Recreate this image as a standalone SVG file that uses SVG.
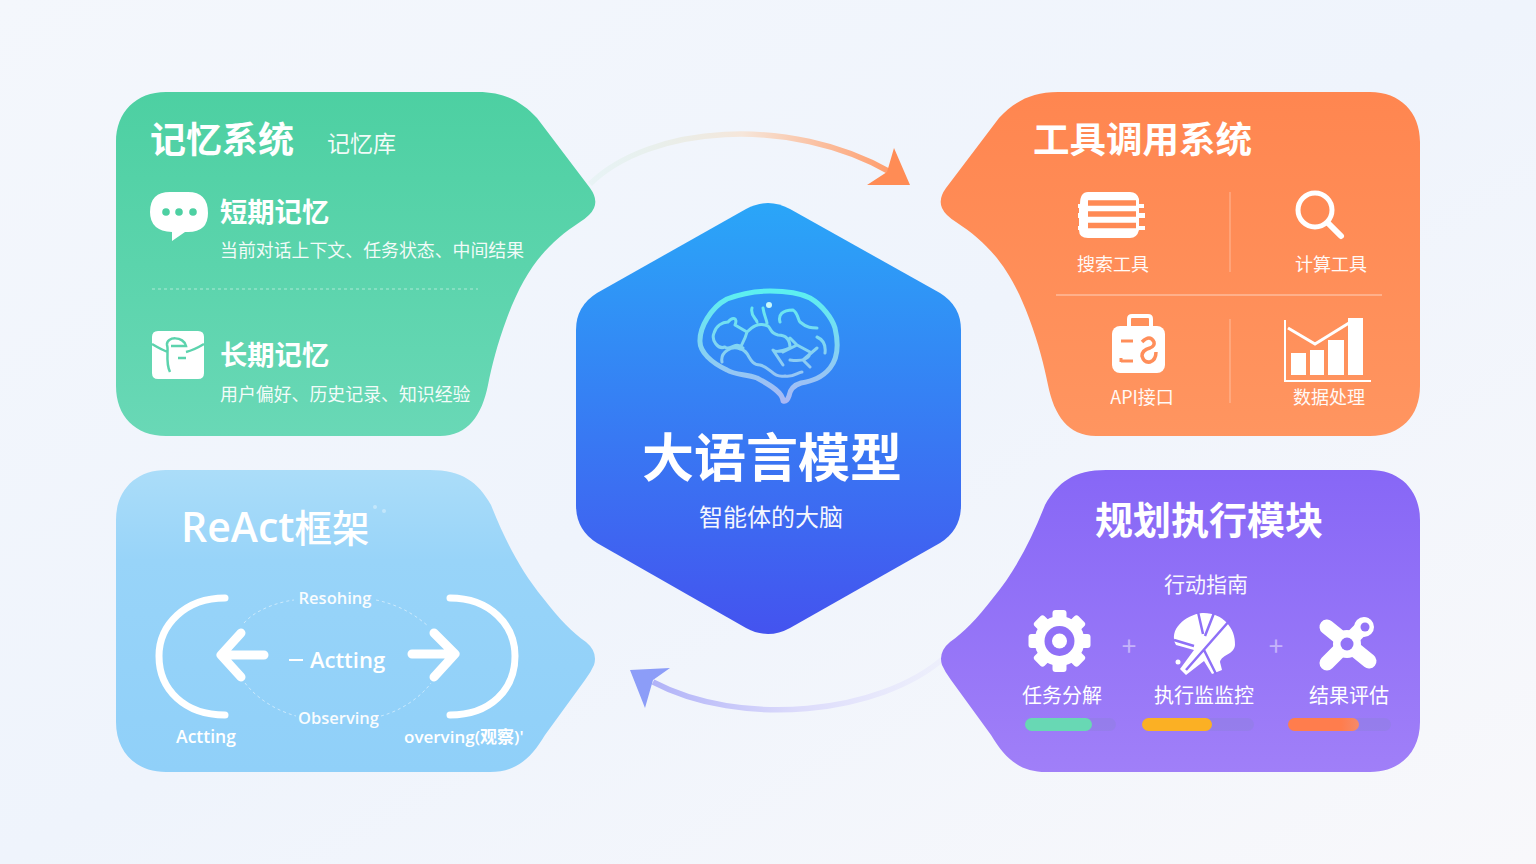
<svg xmlns="http://www.w3.org/2000/svg" width="1536" height="864" viewBox="0 0 1536 864">
<style>
text{font-family:"Noto Sans CJK SC","Noto Sans",sans-serif;fill:#fff}
.c{text-anchor:middle}
.t{font-size:36px;font-weight:700}
.h{font-size:27.300px;font-weight:700}
.s{font-size:17.900px;opacity:.92}
.l{font-size:18px;opacity:.95}
.e{font-family:"Open Sans","Noto Sans CJK SC",sans-serif;font-weight:600}
.w{fill:#fff}
.ws{fill:none;stroke:#fff;stroke-linecap:round;stroke-linejoin:round}
.d{fill:none;stroke:#fff;stroke-width:1;stroke-dasharray:3 3;opacity:.5}
.bf{fill:none;stroke:url(#gbr);stroke-linecap:round;stroke-linejoin:round}
.tr{fill:#8f80e2;fill-opacity:.55}
</style>
<defs>
<linearGradient id="bg" x1="0" y1="0" x2="1" y2="1"><stop offset="0" stop-color="#f4f7fc"/><stop offset=".5" stop-color="#eff4fc"/><stop offset="1" stop-color="#f8f8fb"/></linearGradient>
<linearGradient id="gg" x1="0" y1="0" x2="0" y2="1"><stop offset="0" stop-color="#4dd0a2"/><stop offset="1" stop-color="#69d8b6"/></linearGradient>
<linearGradient id="go" x1="0" y1="0" x2="0" y2="1"><stop offset="0" stop-color="#ff8650"/><stop offset="1" stop-color="#ff9560"/></linearGradient>
<linearGradient id="gb" x1="0" y1="0" x2="0" y2="1"><stop offset="0" stop-color="#abddf9"/><stop offset=".3" stop-color="#98d4f9"/><stop offset="1" stop-color="#90d0f9"/></linearGradient>
<linearGradient id="gp" x1="0" y1="0" x2="0" y2="1"><stop offset="0" stop-color="#8767f6"/><stop offset="1" stop-color="#a07ff8"/></linearGradient>
<linearGradient id="gh" x1="0" y1="0" x2="0" y2="1"><stop offset="0" stop-color="#2aa6f8"/><stop offset="1" stop-color="#4453ef"/></linearGradient>
<linearGradient id="gbr" gradientUnits="userSpaceOnUse" x1="0" y1="292" x2="0" y2="402"><stop offset="0" stop-color="#5cf0f0"/><stop offset="1" stop-color="#a9b8f5"/></linearGradient>
<linearGradient id="a1" gradientUnits="userSpaceOnUse" x1="590" y1="180" x2="895" y2="180"><stop offset="0" stop-color="#d5efe6" stop-opacity=".3"/><stop offset=".5" stop-color="#f6e6da"/><stop offset="1" stop-color="#ff9a68"/></linearGradient>
<linearGradient id="a2" gradientUnits="userSpaceOnUse" x1="945" y1="680" x2="650" y2="680"><stop offset="0" stop-color="#e6e6fc" stop-opacity=".4"/><stop offset=".5" stop-color="#dcdbfb"/><stop offset="1" stop-color="#b0b2f8"/></linearGradient>
<linearGradient id="rb"><stop offset="0" stop-color="#ff7d4d"/><stop offset=".75" stop-color="#ff7d4d"/><stop offset="1" stop-color="#f58a6a"/></linearGradient>
</defs>
<rect width="1536" height="864" fill="url(#bg)"/>

<g id="connectors">
<path d="M590 184C650 125 790 115 890 172" fill="none" stroke="url(#a1)" stroke-width="5.500"/>
<path d="M867 185L887 172L894 148L910 185Z" fill="#ff8c55"/>
<path d="M945 657C880 715 740 728 653 682" fill="none" stroke="url(#a2)" stroke-width="5.500"/>
<path d="M630 670L670 668L653 680L645 708Z" fill="#8c9df8"/>
</g>

<g id="memory">
<path d="M166 92H478C505 92 522 102 537 118L590 188Q598 199 594 208Q591 215 580 222C545 245 525 270 507 318C497 345 492 365 488 385C482 415 468 436 440 436H166C135 436 116 416 116 386V142C116 112 136 92 166 92Z" fill="url(#gg)"/>
<text x="150" y="153" class="t">记忆系统</text>
<text x="327" y="152" style="font-size:23px" opacity=".92">记忆库</text>
<path class="w" d="M170 192H188Q208 192 208 213Q208 232 188 232H185L172 241V232Q150 231 150 212Q150 192 170 192Z"/>
<circle cx="166" cy="212" r="3.800" fill="#4dd0a2"/><circle cx="179" cy="212" r="3.800" fill="#4dd0a2"/><circle cx="193" cy="212" r="3.800" fill="#4dd0a2"/>
<text x="220" y="222" class="h">短期记忆</text>
<text x="220" y="257" class="s">当前对话上下文、任务状态、中间结果</text>
<line x1="152" y1="289" x2="478" y2="289" class="d"/>
<path class="w" d="M158 331H198Q204 331 204 337V373Q204 379 198 379H158Q152 379 152 373V337Q152 331 158 331Z"/>
<path d="M152 344Q162 350 168 352M204 344Q194 350 186 352M170 372C165 362 169 350 167 345C166 336 184 336 186 346H171M178 358H186" fill="none" stroke="#5cd3ad" stroke-width="2.500"/>
<text x="220" y="365" class="h">长期记忆</text>
<text x="220" y="401" class="s">用户偏好、历史记录、知识经验</text>
</g>

<g id="tools">
<path d="M1370 92H1058C1031 92 1014 102 999 118L946 188Q938 199 942 208Q945 215 956 222C991 245 1011 270 1029 318C1039 345 1044 365 1048 385C1054 415 1068 436 1096 436H1370C1401 436 1420 416 1420 386V142C1420 112 1400 92 1370 92Z" fill="url(#go)"/>
<text x="1033" y="153" class="t" style="font-size:36.500px">工具调用系统</text>
<path class="w" d="M1088 192H1130Q1137 192 1139 199V204H1144V208H1139V213H1145V218H1139V226H1145V230H1139Q1137 238 1130 238H1088Q1079 238 1079 230H1078V226H1079V218H1078V213H1079V208H1078V204H1080Q1080 192 1088 192Z"/>
<path d="M1088 203H1136M1088 214H1136M1088 225.500H1136" stroke="#ff8a55" stroke-width="5.500" fill="none"/>
<circle cx="1315" cy="210" r="17" fill="none" stroke="#fff" stroke-width="5"/>
<line x1="1328" y1="223" x2="1341" y2="236" class="ws" stroke-width="6"/>
<text x="1113" y="271" class="c l">搜索工具</text>
<text x="1331" y="271" class="c l">计算工具</text>
<line x1="1230" y1="192" x2="1230" y2="272" stroke="#fff" stroke-opacity=".4"/>
<line x1="1056" y1="295" x2="1382" y2="295" stroke="#fff" stroke-opacity=".6"/>
<line x1="1230" y1="319" x2="1230" y2="403" stroke="#fff" stroke-opacity=".4"/>
<path d="M1129 327V319Q1129 316 1132 316H1148Q1151 316 1151 319V327" fill="none" stroke="#fff" stroke-width="4"/>
<rect x="1112" y="326" width="53" height="47" rx="8" class="w"/>
<path d="M1121 341H1133M1121 362V358M1121 361H1133" stroke="#ff8e5a" stroke-width="3" fill="none"/>
<path d="M1142 342Q1150 334 1154 342Q1155 346 1150 348Q1142 350 1142 356Q1144 363 1150 362Q1156 360 1156 352" stroke="#ff8e5a" stroke-width="3.500" fill="none"/>
<text x="1142" y="404" class="c l">API接口</text>
<path d="M1285 320V381H1371" fill="none" stroke="#fff" stroke-width="2"/>
<path d="M1288 328L1315 344L1349 323" fill="none" stroke="#fff" stroke-width="3"/>
<rect x="1291" y="353" width="15" height="22" class="w"/>
<rect x="1310" y="350" width="14" height="25" class="w"/>
<rect x="1328" y="340" width="16" height="35" class="w"/>
<rect x="1348" y="318" width="15" height="57" class="w"/>
<text x="1329" y="404" class="c l">数据处理</text>
</g>

<g id="react">
<path d="M166 470H430C462 470 478 482 491 505C505 540 520 570 543 598C560 620 572 632 586 642Q598 652 594 665Q591 672 585 680L545 735C530 760 515 772 490 772H166C136 772 116 752 116 722V520C116 490 136 470 166 470Z" fill="url(#gb)"/>
<text x="181" y="542" class="e" style="font-size:41px">ReAct<tspan style="font-size:37.500px;font-family:'Noto Sans CJK SC';font-weight:500">框架</tspan></text>
<circle cx="375" cy="507" r="2" fill="#fff" opacity=".35"/><circle cx="384" cy="511" r="2" fill="#fff" opacity=".35"/>
<path class="ws" stroke-width="7" d="M225 598C185 598 159 625 159 656C159 690 185 715 225 715"/>
<path class="ws" stroke-width="7" d="M450 598C490 598 515 625 515 656C515 690 490 715 450 715"/>
<path class="ws" stroke-width="9" d="M264 655H226M241 633L221 655L241 677"/>
<path class="ws" stroke-width="9" d="M412 654H452M434 633L455 654L434 677"/>
<path class="d" d="M244 623C255 610 278 602 294 600M376 600C395 604 412 612 428 626M245 683C258 700 278 711 296 716M381 716C400 711 420 698 431 683"/>
<text x="335" y="604" class="c e" style="font-size:16.500px" opacity=".95">Resohing</text>
<line x1="289" y1="660" x2="303" y2="660" stroke="#fff" stroke-width="2"/>
<text x="347.500" y="668" class="c e" style="font-size:22px">Actting</text>
<text x="338.500" y="724" class="c e" style="font-size:16.500px" opacity=".95">Observing</text>
<text x="206" y="743" class="c e" style="font-size:17.500px">Actting</text>
<text x="404" y="743" class="e" style="font-size:17px">overving(观察)'</text>
</g>

<g id="planning">
<path d="M1370 470H1106C1074 470 1058 482 1045 505C1031 540 1016 570 993 598C976 620 964 632 950 642Q938 652 942 665Q945 672 951 680L991 735C1006 760 1021 772 1046 772H1370C1400 772 1420 752 1420 722V520C1420 490 1400 470 1370 470Z" fill="url(#gp)"/>
<text x="1209" y="534" class="c t" style="font-size:38px">规划执行模块</text>
<text x="1206" y="592" class="c" style="font-size:21px" opacity=".95">行动指南</text>
<g transform="translate(1059.500 641)">
<circle r="25" class="w"/>
<rect x="-7" y="-31" width="14" height="16" rx="3" class="w"/>
<rect x="-7" y="-31" width="14" height="16" rx="3" class="w" transform="rotate(45)"/>
<rect x="-7" y="-31" width="14" height="16" rx="3" class="w" transform="rotate(90)"/>
<rect x="-7" y="-31" width="14" height="16" rx="3" class="w" transform="rotate(135)"/>
<rect x="-7" y="-31" width="14" height="16" rx="3" class="w" transform="rotate(180)"/>
<rect x="-7" y="-31" width="14" height="16" rx="3" class="w" transform="rotate(225)"/>
<rect x="-7" y="-31" width="14" height="16" rx="3" class="w" transform="rotate(270)"/>
<rect x="-7" y="-31" width="14" height="16" rx="3" class="w" transform="rotate(315)"/>
<circle r="15" fill="#9070f7"/>
<circle r="7.500" class="w"/>
</g>
<text x="1129" y="656" class="c" style="font-size:26px" opacity=".45">+</text>
<path class="w" d="M1176 645C1168 630 1185 615 1202 613C1222 612 1236 628 1235 645C1234 655 1222 654 1220 662L1222 670L1212 674L1204 661L1186 675L1180 669L1194 650Z"/>
<path d="M1198 612L1203 634M1214 613L1205 636M1230 620L1186 670M1174 640L1194 646M1204 650L1216 674" stroke="#8e70f7" stroke-width="2.500" fill="none"/>
<circle cx="1178" cy="662" r="2.500" class="w"/>
<text x="1276" y="656" class="c" style="font-size:26px" opacity=".45">+</text>
<path class="ws" stroke-width="15" stroke-linecap="butt" stroke-linejoin="miter" d="M1327 627L1369 661M1365 625L1327 663"/>
<circle cx="1347" cy="644" r="14" class="w"/><circle cx="1347" cy="644" r="6.500" fill="#9274f7"/>
<circle cx="1364" cy="627" r="10" class="w"/><circle cx="1365" cy="627" r="4.500" fill="#9274f7"/>
<text x="1062" y="703" class="c" style="font-size:20px">任务分解</text>
<text x="1204" y="703" class="c" style="font-size:20px">执行监监控</text>
<text x="1349" y="703" class="c" style="font-size:20px">结果评估</text>
<rect x="1025" y="718" width="91" height="13" rx="6.500" class="tr"/>
<rect x="1025" y="718" width="67" height="13" rx="6.500" fill="#68d8b4"/>
<rect x="1142" y="718" width="112" height="13" rx="6.500" class="tr"/>
<rect x="1142" y="718" width="70" height="13" rx="6.500" fill="#fbb024"/>
<rect x="1288" y="718" width="103" height="13" rx="6.500" class="tr"/>
<rect x="1288" y="718" width="71" height="13" rx="6.500" fill="url(#rb)"/>
</g>

<g id="center">
<path d="M746 209Q768 197 790 209L940 293Q961 306 961 330V505Q961 530 940 543L790 628Q768 640 746 628L597 543Q576 530 576 505V330Q576 306 597 293Z" fill="url(#gh)"/>
<path class="bf" stroke-width="5" d="M783 401C783 393 772 386 757 378C745 374 735 375 727 370C712 363 699 352 700 340C700 328 710 308 727 299C745 292 757 291 770 291C785 291 800 293 810 298C822 305 832 318 835 328C839 345 838 358 830 368C822 378 812 381 801 383C794 385 790 390 789 396Q787 402 783 401Z"/>
<path class="bf" stroke-width="3" d="M743 348C735 340 730 352 725 347C718 350 711 340 714 333C716 326 722 322 728 322C733 316 738 318 735 325L747 332C745 340 741 345 740 349M722 362C720 352 732 345 740 349C750 350 748 365 760 365C772 368 772 378 785 376C792 378 798 372 802 372M747 332C752 327 758 322 768 326C772 330 770 333 778 335C788 335 790 342 790 348C780 352 775 352 773 350L783 365M752 308C750 316 756 318 757 322M763 308C764 315 766 318 767 323M780 322C778 315 782 310 793 310C798 313 798 320 800 322C807 328 812 328 817 328M797 345L810 352C810 358 804 362 790 360M817 348L803 360L810 367M817 337C824 340 826 345 825 353M790 338L797 345L783 352"/>
<circle cx="769" cy="305" r="3" fill="#c8f8fa"/>
<text x="772" y="477" class="c" style="font-size:52px;font-weight:700">大语言模型</text>
<text x="771" y="526" class="c" style="font-size:24px" opacity=".95">智能体的大脑</text>
</g>
</svg>
